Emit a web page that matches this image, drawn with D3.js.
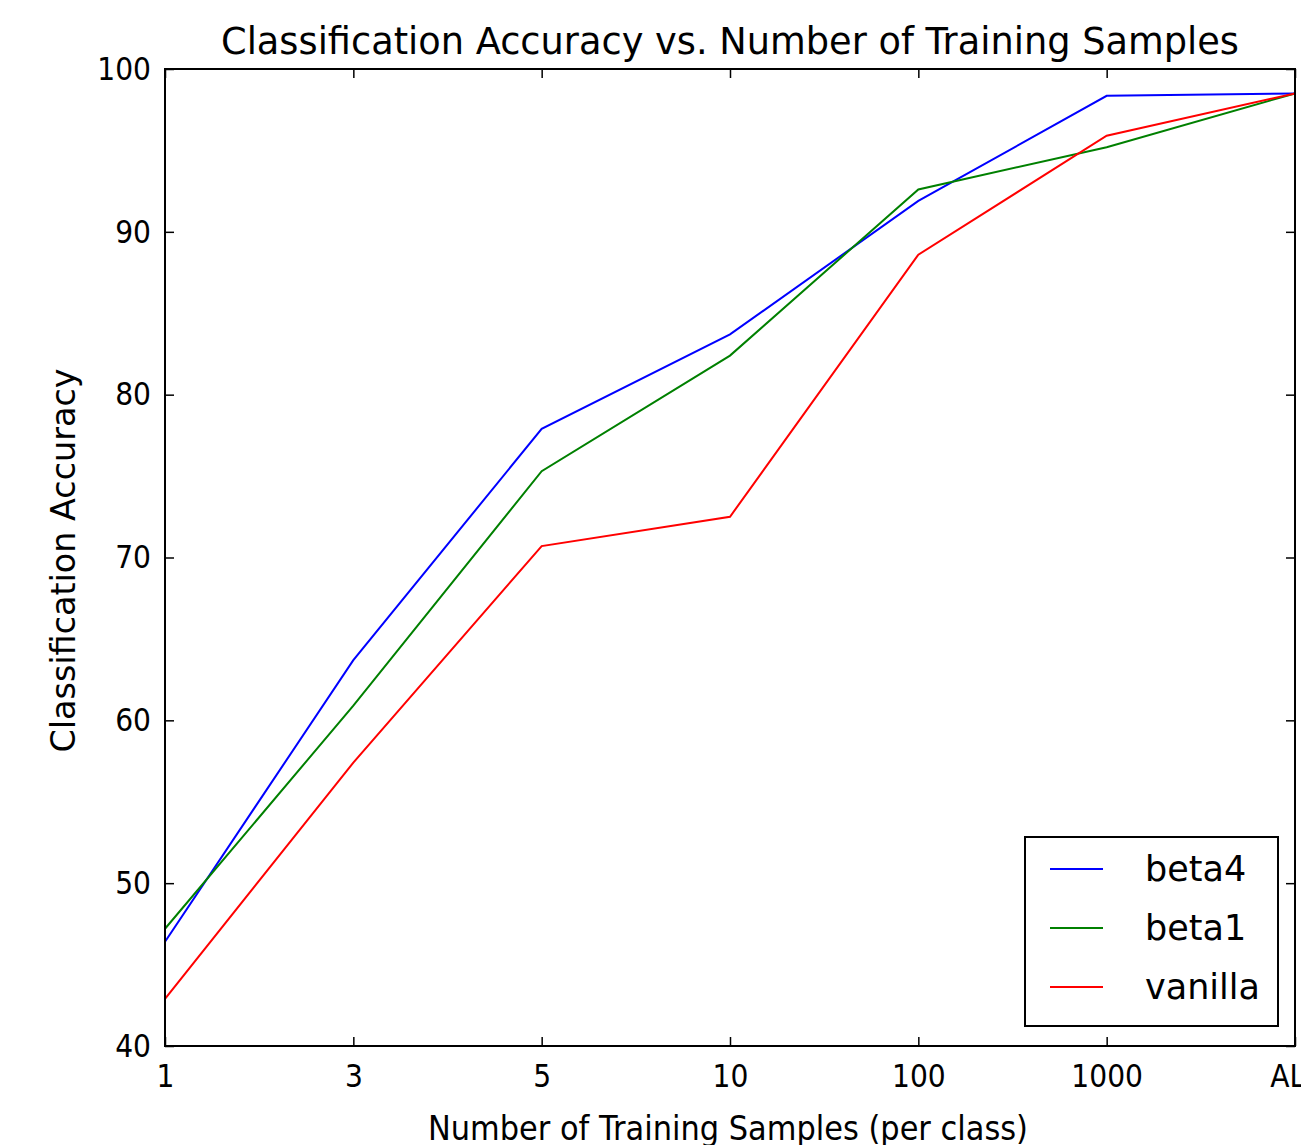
<!DOCTYPE html>
<html><head><meta charset="utf-8">
<script src="https://cdn.jsdelivr.net/npm/d3@7"></script>
<style>
html,body{margin:0;padding:0;background:#fff;overflow:hidden;}
text{font-family:"DejaVu Sans",sans-serif;fill:#000;}
</style></head>
<body>
<svg id="chart" width="1301" height="1145"></svg>
<script>
const categories = ["1","3","5","10","100","1000","ALL"];
const beta4   = [46.4, 63.7, 77.9, 83.7, 91.9, 98.35, 98.5];
const beta1   = [47.2, 60.9, 75.3, 82.4, 92.6, 95.2, 98.5];
const vanilla = [42.9, 57.4, 70.7, 72.5, 88.6, 95.9, 98.5];
const yTicks = [40, 50, 60, 70, 80, 90, 100];
const seriesNames = ["beta4", "beta1", "vanilla"];
const seriesColors = ["#0000ff", "#008000", "#ff0000"];
const seriesValues = [beta4, beta1, vanilla];
const title = "Classification Accuracy vs. Number of Training Samples";
const xLabel = "Number of Training Samples (per class)";
const yLabel = "Classification Accuracy";

const L = 165, R = 1295, T = 69, B = 1046;
const svg = d3.select("#chart");
const x = d3.scalePoint().domain(categories).range([L, R]);
const y = d3.scaleLinear().domain([40, 100]).range([B, T]);

function squeeze(sel, f){
  sel.each(function(){
    const w = this.getComputedTextLength();
    d3.select(this).attr("textLength", w*f).attr("lengthAdjust","spacingAndGlyphs");
  });
}

// lines
const line = d3.line().x((d,i)=>x(categories[i])).y(d=>y(d));
seriesValues.forEach((vals,k)=>{
  svg.append("path").datum(vals).attr("d", line)
    .attr("fill","none").attr("stroke", seriesColors[k]).attr("stroke-width", 2)
    .attr("stroke-linejoin","miter");
});

// axes with inward ticks
const tl = 9;
const gB = svg.append("g").attr("transform",`translate(0,${B})`)
  .call(d3.axisBottom(x).tickSizeInner(-tl).tickSizeOuter(0).tickPadding(18));
const gT = svg.append("g").attr("transform",`translate(0,${T})`)
  .call(d3.axisTop(x).tickSizeInner(-tl).tickSizeOuter(0).tickFormat(""));
const gL = svg.append("g").attr("transform",`translate(${L},0)`)
  .call(d3.axisLeft(y).tickValues(yTicks).tickSizeInner(-tl).tickSizeOuter(0).tickPadding(14).tickFormat(d3.format("d")));
const gR = svg.append("g").attr("transform",`translate(${R},0)`)
  .call(d3.axisRight(y).tickValues(yTicks).tickSizeInner(-tl).tickSizeOuter(0).tickFormat(""));
[gB,gT,gL,gR].forEach(g=>{
  g.select(".domain").remove();
  g.selectAll(".tick line").attr("stroke","#000").attr("stroke-width",1.5);
});
gB.selectAll(".tick text").attr("font-size",32).attr("font-family","DejaVu Sans").attr("dy","0.71em").attr("fill","#000");
squeeze(gB.selectAll(".tick text"), 0.88);
gL.selectAll(".tick text").attr("font-size",32).attr("font-family","DejaVu Sans").attr("fill","#000");
squeeze(gL.selectAll(".tick text"), 0.88);

// frame
svg.append("rect").attr("x",L).attr("y",T).attr("width",R-L).attr("height",B-T)
  .attr("fill","none").attr("stroke","#000").attr("stroke-width",2);

// title & labels
svg.append("text").attr("x",(L+R)/2).attr("y",54).attr("text-anchor","middle")
  .attr("font-size",37).text(title).attr("textLength",1018).attr("lengthAdjust","spacingAndGlyphs");
svg.append("text").attr("x",728).attr("y",1140).attr("text-anchor","middle")
  .attr("font-size",34).text(xLabel).attr("textLength",600).attr("lengthAdjust","spacingAndGlyphs");
svg.append("text").attr("transform",`translate(75,${(T+B)/2+3}) rotate(-90)`).attr("text-anchor","middle")
  .attr("font-size",33).text(yLabel).attr("textLength",384).attr("lengthAdjust","spacingAndGlyphs");

// legend
const lg = svg.append("g");
lg.append("rect").attr("x",1025).attr("y",837).attr("width",253).attr("height",189)
  .attr("fill","#fff").attr("stroke","#000").attr("stroke-width",2);
seriesNames.forEach((n,k)=>{
  const ly = 869 + k*59;
  lg.append("line").attr("x1",1050).attr("x2",1103).attr("y1",ly).attr("y2",ly)
    .attr("stroke",seriesColors[k]).attr("stroke-width",2);
  lg.append("text").attr("x",1145).attr("y",ly).attr("dy","0.35em").attr("font-size",35).text(n);
});
</script>
</body></html>
